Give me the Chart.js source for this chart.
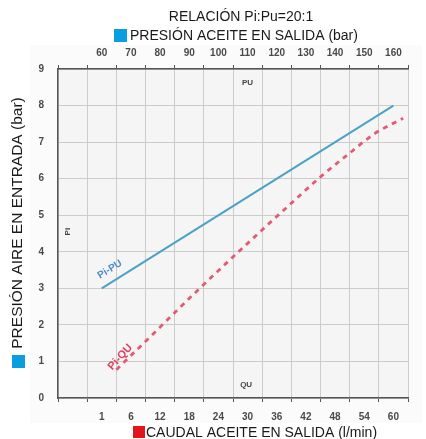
<!DOCTYPE html>
<html>
<head>
<meta charset="utf-8">
<script src="https://cdn.jsdelivr.net/npm/chart.js@4/dist/chart.umd.min.js"></script>
<style>
  html, body { margin: 0; padding: 0; background: #fff; }
  #wrap { width: 426px; height: 439px; }
</style>
</head>
<body>
<div id="wrap"><canvas id="chart" width="426" height="439"></canvas></div>
<script>
// tick labels
const Y_TICKS = [0, 1, 2, 3, 4, 5, 6, 7, 8, 9];
const TOP_TICKS = [60, 70, 80, 90, 100, 110, 120, 130, 140, 150, 160];
const BOTTOM_TICKS = ['1', '6', '12', '18', '24', '30', '36', '42', '48', '54', '60'];

// Pi-PU : presión aceite salida (bar) vs presión aire entrada (bar)
const PU_BAR = [60, 160];
const PI_PU = [3, 8];

// Pi-QU : caudal aceite salida (l/min) vs presión aire entrada (bar)
const QU_LMIN = [3, 10, 20, 30, 40, 45, 51, 56, 62];
const PI_QU = [0.77, 1.68, 2.98, 4.23, 5.45, 6.05, 6.7, 7.22, 7.65];

const TITLE = 'RELACIÓN Pi:Pu=20:1';
const TOP_LEGEND = 'PRESIÓN ACEITE EN SALIDA (bar)';
const BOTTOM_LEGEND = 'CAUDAL ACEITE EN SALIDA (l/min)';
const Y_LEGEND = 'PRESIÓN AIRE EN ENTRADA (bar)';

const BLUE_LINE = '#4ba2c6';
const RED_LINE = '#e35a74';
const BLUE_BOX = '#0a9ee0';
const RED_BOX = '#e3141e';
const GRID = '#cccccc';
const AXIS = '#555555';
const TICK_FONT = { family: 'Liberation Sans', size: 10, weight: 'bold' };

const fixSize = (w, h) => (scale) => {
  if (w !== null) scale.width = w;
  if (h !== null) scale.height = h;
};

const extras = {
  id: 'extras',
  beforeDraw(chart) {
    const { ctx, chartArea: a } = chart;
    ctx.save();
    ctx.fillStyle = '#fbfbfb';
    ctx.fillRect(30, 45, 392, 378);
    ctx.fillStyle = '#f5f5f5';
    ctx.fillRect(a.left, a.top, a.right - a.left, a.bottom - a.top);
    ctx.restore();
  },
  afterDatasetsDraw(chart) {
    const { ctx, scales } = chart;
    const gx = scales.x, y = scales.y, xp = scales.xp, xq = scales.xq;
    ctx.save();
    ctx.textAlign = 'center';
    ctx.textBaseline = 'middle';

    // labels inside the plot
    ctx.fillStyle = '#444';
    ctx.font = 'bold 8px "Liberation Sans"';
    ctx.fillText('PU', gx.getPixelForValue(6.5), y.getPixelForValue(8.62));
    ctx.fillText('QU', gx.getPixelForValue(6.45), y.getPixelForValue(0.35));
    ctx.save();
    ctx.translate(gx.getPixelForValue(0.35), y.getPixelForValue(4.55));
    ctx.rotate(-Math.PI / 2);
    ctx.fillText('Pi', 0, 0);
    ctx.restore();

    ctx.save();
    ctx.fillStyle = '#4a8fc4';
    ctx.font = 'bold 10px "Liberation Sans"';
    ctx.translate(xp.getPixelForValue(62.8), y.getPixelForValue(3.52));
    ctx.rotate(-32 * Math.PI / 180);
    ctx.fillText('Pi-PU', 0, 0);
    ctx.restore();

    ctx.save();
    ctx.fillStyle = '#e0405e';
    ctx.font = 'bold 11px "Liberation Sans"';
    ctx.translate(xq.getPixelForValue(3.8), y.getPixelForValue(1.12));
    ctx.rotate(-48 * Math.PI / 180);
    ctx.fillText('Pi-QU', 0, 0);
    ctx.restore();

    // title and legends
    ctx.fillStyle = '#1a1a1a';
    ctx.font = '14px "Liberation Sans"';
    ctx.fillText(TITLE, 241, 17);

    ctx.textAlign = 'left';
    ctx.fillStyle = BLUE_BOX;
    ctx.fillRect(114, 29, 13, 13);
    ctx.fillStyle = '#1a1a1a';
    ctx.fillText(TOP_LEGEND, 130, 36);

    ctx.fillStyle = RED_BOX;
    ctx.fillRect(133, 426, 12, 12);
    ctx.fillStyle = '#1a1a1a';
    ctx.fillText(BOTTOM_LEGEND, 146, 433);

    ctx.fillStyle = BLUE_BOX;
    ctx.fillRect(12, 355, 13, 13);
    ctx.save();
    ctx.translate(18, 223);
    ctx.rotate(-Math.PI / 2);
    ctx.textAlign = 'center';
    ctx.fillStyle = '#1a1a1a';
    ctx.font = '15.5px "Liberation Sans"';
    ctx.fillText(Y_LEGEND, 0, 0);
    ctx.restore();

    ctx.restore();
  }
};

const ctx = document.getElementById('chart').getContext('2d');
new Chart(ctx, {
  type: 'line',
  data: {
    datasets: [{
      label: 'Pi-PU',
      data: PU_BAR.map((v, i) => ({ x: v, y: PI_PU[i] })),
      xAxisID: 'xp',
      yAxisID: 'y',
      borderColor: BLUE_LINE,
      borderWidth: 2,
      pointRadius: 0,
      fill: false
    }, {
      label: 'Pi-QU',
      data: QU_LMIN.map((v, i) => ({ x: v, y: PI_QU[i] })),
      xAxisID: 'xq',
      yAxisID: 'y',
      borderColor: RED_LINE,
      borderWidth: 2.8,
      borderDash: [5, 5],
      pointRadius: 0,
      cubicInterpolationMode: 'monotone',
      fill: false
    }]
  },
  options: {
    responsive: false,
    animation: false,
    layout: {
      padding: { top: 44, right: 18, bottom: 17, left: 0 }
    },
    plugins: {
      legend: { display: false },
      title: { display: false },
      tooltip: { enabled: false }
    },
    scales: {
      // grid (12 columns)
      x: {
        type: 'linear',
        position: 'bottom',
        weight: 0,
        min: 0,
        max: 12,
        ticks: { stepSize: 1, display: false },
        grid: { color: GRID, tickLength: 4, tickColor: AXIS },
        border: { color: AXIS, width: 1.5 },
        afterFit: fixSize(null, 4)
      },
      xtg: {
        type: 'linear',
        position: 'top',
        weight: 0,
        min: 0,
        max: 12,
        ticks: { stepSize: 1, display: false },
        grid: { drawOnChartArea: false, tickLength: 4, tickColor: AXIS },
        border: { color: AXIS, width: 1.5 },
        afterFit: fixSize(null, 4)
      },
      // top: presión aceite (bar)
      xp: {
        type: 'linear',
        position: 'top',
        weight: 1,
        min: 45,
        max: 165,
        afterBuildTicks: (scale) => {
          scale.ticks = TOP_TICKS.map(v => ({ value: v }));
        },
        ticks: { color: '#4a4a4a', font: TICK_FONT, padding: 6, maxRotation: 0, autoSkip: false },
        grid: { display: false, drawTicks: false },
        border: { display: false },
        afterFit: fixSize(null, 21)
      },
      // bottom: caudal aceite (l/min)
      xq: {
        type: 'linear',
        position: 'bottom',
        weight: 1,
        min: -9,
        max: 63,
        afterBuildTicks: (scale) => {
          scale.ticks = BOTTOM_TICKS.map((v, i) => ({ value: i * 6 }));
        },
        ticks: {
          color: '#4a4a4a',
          font: TICK_FONT,
          padding: 9,
          maxRotation: 0,
          autoSkip: false,
          callback: (value, index) => BOTTOM_TICKS[index]
        },
        grid: { display: false, drawTicks: false },
        border: { display: false },
        afterFit: fixSize(null, 20)
      },
      y: {
        type: 'linear',
        position: 'left',
        min: 0,
        max: 9,
        afterBuildTicks: (scale) => {
          scale.ticks = Y_TICKS.map(v => ({ value: v }));
        },
        ticks: { color: '#4a4a4a', font: TICK_FONT, padding: 14 },
        grid: { color: GRID, drawTicks: false },
        border: { color: AXIS, width: 1.5 },
        afterFit: fixSize(58, null)
      }
    }
  },
  plugins: [extras]
});
</script>
</body>
</html>
